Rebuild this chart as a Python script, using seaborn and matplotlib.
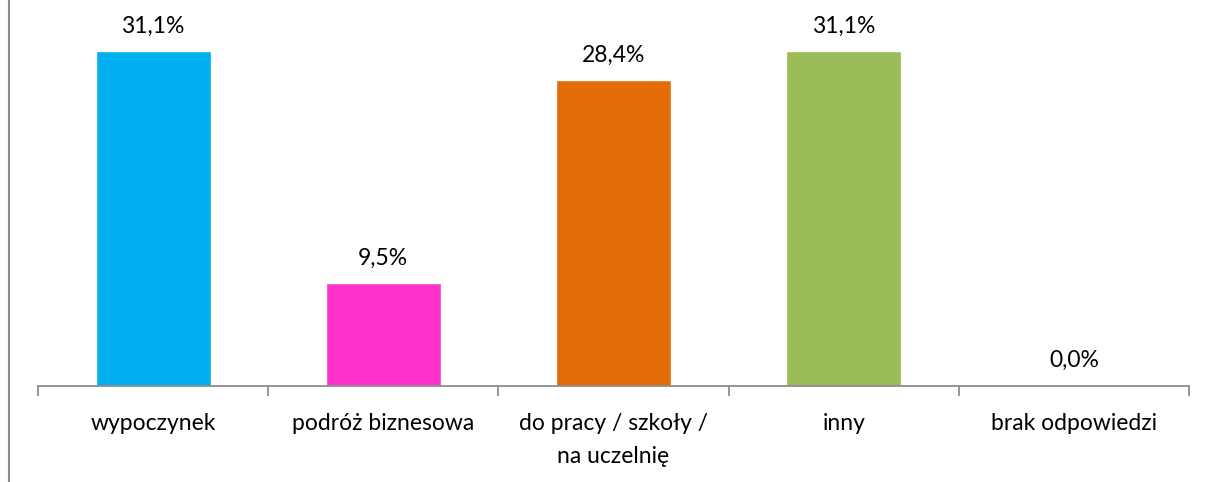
import matplotlib
matplotlib.use("Agg")
import matplotlib.pyplot as plt
import seaborn as sns
import pandas as pd
from matplotlib.lines import Line2D

categories = ["wypoczynek", "podróż biznesowa", "do pracy / szkoły /\nna uczelnię", "inny", "brak odpowiedzi"]
values = [31.1, 9.5, 28.4, 31.1, 0.0]
colors = ["#00B0F0", "#FF33CC", "#E36C09", "#9BBB59", "#8064A2"]

df = pd.DataFrame({"cat": categories, "val": values})

sns.set_style("white")
plt.rcParams["font.family"] = ["Lato", "DejaVu Sans"]

fig = plt.figure(figsize=(12.08, 4.82), dpi=100)
ax = fig.add_axes([38 / 1208, 1 - 385.7 / 482, 1151 / 1208, 385.7 / 482])

sns.barplot(data=df, x="cat", y="val", hue="cat", palette=colors,
            legend=False, width=0.5, ax=ax, saturation=1)

ax.set_xlim(-0.5, len(categories) - 0.5)
ax.set_ylim(0, 31.1 * 385.7 / 334.7)

# value labels
for i, v in enumerate(values):
    ax.annotate(f"{v:.1f}%".replace(".", ","), (i, v), xytext=(0, 18),
                textcoords="offset points", ha="center", va="center",
                fontsize=16.5, color="#000000")

for s in ["top", "right", "left"]:
    ax.spines[s].set_visible(False)
ax.spines["bottom"].set_color("#8C8C8C")
ax.spines["bottom"].set_linewidth(1.3)

ax.set_yticks([])
ax.set_xticks(range(len(categories)))
ax.set_xticklabels(categories, fontsize=16.5, color="#000000", linespacing=1.65,
                   va="top")
ax.tick_params(axis="x", which="major", bottom=True, length=0, pad=20)
ax.set_xticks([i - 0.5 for i in range(len(categories) + 1)], minor=True)
ax.tick_params(axis="x", which="minor", bottom=True, length=7, width=1.3,
               color="#8C8C8C", direction="out")
ax.set_xlabel("")
ax.set_ylabel("")

# left border line of the chart area
fig.add_artist(Line2D([8.5 / 1208, 8.5 / 1208], [0, 1], color="#8C8C8C",
                      linewidth=1.5, transform=fig.transFigure))

fig.savefig("out.png", dpi=100)
